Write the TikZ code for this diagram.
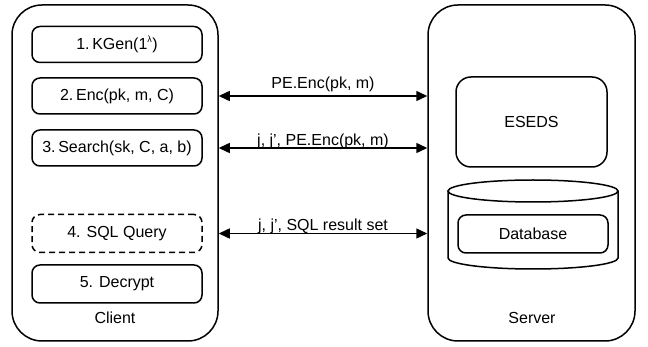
\documentclass[tikz,border=0pt]{standalone}
\usepackage{fontspec}
\setmainfont{Liberation Sans}
\usetikzlibrary{arrows.meta}
\begin{document}
\begin{tikzpicture}[x=1pt,y=-1pt,line width=1.5pt,
  font=\fontsize{16}{19}\selectfont,
  outerbox/.style={draw,rounded corners=30pt,minimum width=206pt,minimum height=336pt,inner sep=0pt},
  stepbox/.style={draw,rounded corners=8pt,minimum width=170pt,minimum height=36pt,inner sep=0pt},
  dashbox/.style={stepbox,dash pattern=on 6pt off 4pt},
  conn/.style={{Triangle[length=11pt,width=10pt]}-{Triangle[length=11pt,width=10pt]}},
  lbl/.style={inner sep=0pt}]
\useasboundingbox (0,0) rectangle (648,347);
% outer boxes
\node[outerbox] (client) at (115,173) {};
\node[outerbox,minimum width=207pt] (server) at (531.5,173) {};
% client steps
\node[stepbox] (b1) at (117,44.5) {1.\,KGen(1\textsuperscript{\fontsize{9}{9}\selectfont λ})};
\node[stepbox] (b2) at (117,96) {2.\,Enc(pk, m, C)};
\node[stepbox] (b3) at (117,148) {3.\,Search(sk, C, a, b)};
\node[dashbox,minimum height=38pt] (b4) at (117,233.5) {4. SQL Query};
\node[stepbox,minimum height=38pt] (b5) at (117,284) {5. Decrypt};
\node[lbl] (clbl) at (115,318) {Client};
% server parts
\node[draw,rounded corners=15pt,minimum width=151pt,minimum height=90pt,inner sep=0pt] (eseds) at (531.5,122) {ESEDS};
\coordinate (cyl) at (533,191);
\draw (448,191) -- (448,258) arc[start angle=180,end angle=0,x radius=85,y radius=11] -- (618,191);
\draw (cyl) ellipse[x radius=85,y radius=11];
\node[stepbox,minimum width=150pt,minimum height=38pt] (db) at (533,234) {Database};
\node[lbl] (slbl) at (532,318) {Server};
% connectors
\draw[conn] (client.east |- b2) -- node[above=3pt,lbl] {PE.Enc(pk, m)} (server.west |- b2);
\draw[conn] (client.east |- b3) -- node[above=-2pt,lbl] {j, j’, PE.Enc(pk, m)} (server.west |- b3);
\draw[conn] (client.east |- b4) -- node[above=-1pt,lbl] {j, j’, SQL result set} (server.west |- b4);
\end{tikzpicture}
\end{document}
